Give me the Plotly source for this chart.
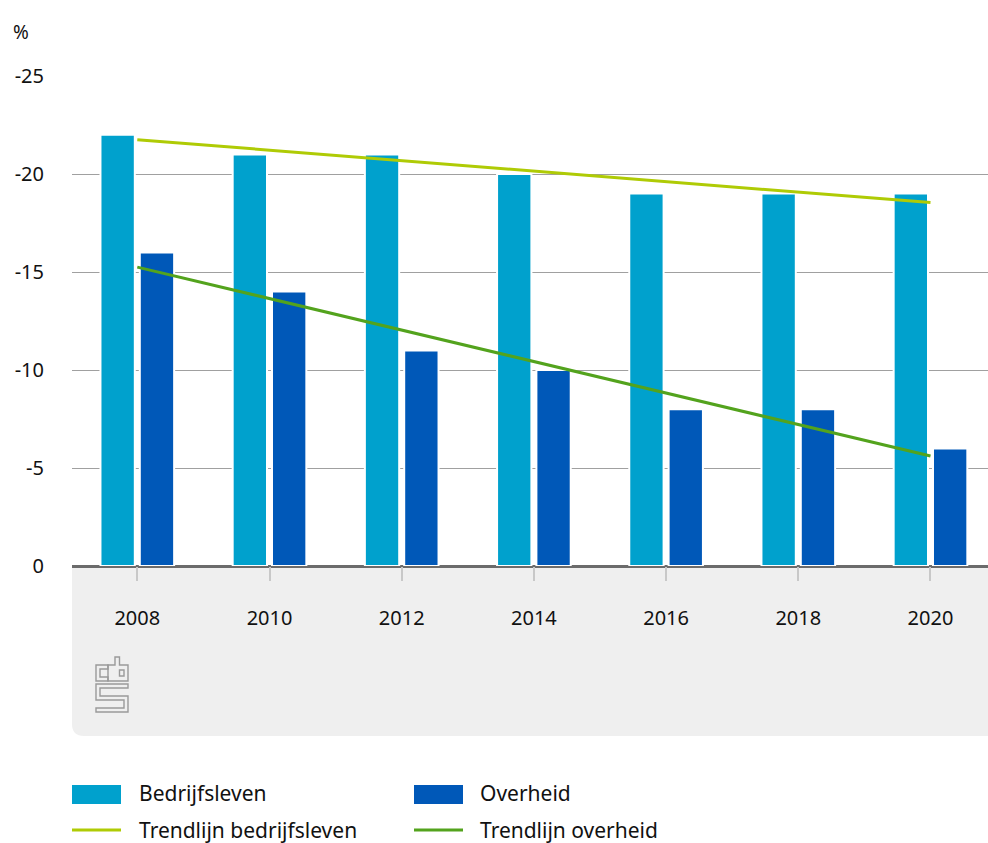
import plotly.graph_objects as go

years = ["2008", "2010", "2012", "2014", "2016", "2018", "2020"]
bedrijfsleven = [-22, -21, -21, -20, -19, -19, -19]
overheid = [-16, -14, -11, -10, -8, -8, -6]
trend_years = ["2008", "2020"]
trend_bedrijfsleven = [-21.75, -18.54]
trend_overheid = [-15.25, -5.61]
y_ticks = [0, -5, -10, -15, -20, -25]
y_ticktext = ["0", "-5", "-10", "-15", "-20", "-25"]

C_BED = "#00a1cd"
C_OVH = "#0058b8"
C_TBED = "#afcb05"
C_TOVH = "#53a31d"
FONT = "Noto Sans"

W, H = 988, 843
ML, MR, MT, MB = 72, 0, 76, 843 - 566


def px(x):
    return (x - ML) / (W - ML - MR)


def py(y):
    return (H - MB - y) / (H - MT - MB)


fig = go.Figure()
fig.add_trace(go.Bar(x=years, y=bedrijfsleven, name="Bedrijfsleven",
                     marker=dict(color=C_BED, line=dict(color="white", width=2)),
                     showlegend=False))
fig.add_trace(go.Bar(x=years, y=overheid, name="Overheid",
                     marker=dict(color=C_OVH, line=dict(color="white", width=2)),
                     showlegend=False))
fig.add_trace(go.Scatter(x=trend_years, y=trend_bedrijfsleven, mode="lines",
                         name="Trendlijn bedrijfsleven",
                         line=dict(color=C_TBED, width=3), showlegend=False))
fig.add_trace(go.Scatter(x=trend_years, y=trend_overheid, mode="lines",
                         name="Trendlijn overheid",
                         line=dict(color=C_TOVH, width=3), showlegend=False))

shapes = []
# grey band under the axis with rounded bottom-left corner
r = 12
x0, x1, y0, y1 = 72, 988, 566, 736
band_path = (f"M {px(x0)},{py(y0)} L {px(x1)},{py(y0)} L {px(x1)},{py(y1)} "
             f"L {px(x0 + r)},{py(y1)} Q {px(x0)},{py(y1)} {px(x0)},{py(y1 - r)} Z")
shapes.append(dict(type="path", xref="paper", yref="paper", path=band_path,
                   fillcolor="#efefef", line=dict(width=0), layer="below"))


def outline(points):
    s = "M " + " L ".join(f"{px(a)},{py(b)}" for a, b in points) + " Z"
    return dict(type="path", xref="paper", yref="paper", path=s,
                line=dict(color="#9a9a9a", width=1.4), fillcolor="rgba(0,0,0,0)")


# CBS logo (line drawing)
shapes.append(outline([(108, 665), (96, 665), (96, 681), (108, 681), (108, 677),
                       (100, 677), (100, 669), (108, 669)]))
shapes.append(outline([(108, 665), (115, 665), (115, 657), (119.5, 657), (119.5, 665),
                       (128, 665), (128, 681), (108, 681)]))
shapes.append(outline([(119.5, 670), (124, 670), (124, 676), (119.5, 676)]))
shapes.append(outline([(128, 684), (96, 684), (96, 700), (124, 700), (124, 708),
                       (96, 708), (96, 712), (128, 712), (128, 696), (100, 696),
                       (100, 688), (128, 688)]))

# manual legend
shapes.append(dict(type="rect", xref="paper", yref="paper",
                   x0=px(72), x1=px(121), y0=py(785), y1=py(804),
                   fillcolor=C_BED, line=dict(width=0)))
shapes.append(dict(type="rect", xref="paper", yref="paper",
                   x0=px(414), x1=px(463), y0=py(785), y1=py(804),
                   fillcolor=C_OVH, line=dict(width=0)))
shapes.append(dict(type="line", xref="paper", yref="paper",
                   x0=px(72), x1=px(121), y0=py(830), y1=py(830),
                   line=dict(color=C_TBED, width=3)))
shapes.append(dict(type="line", xref="paper", yref="paper",
                   x0=px(414), x1=px(463), y0=py(830), y1=py(830),
                   line=dict(color=C_TOVH, width=3)))

annotations = [
    dict(text="%", xref="paper", yref="paper", x=px(11), y=py(32),
         xanchor="left", yanchor="middle", showarrow=False,
         font=dict(size=19, color="#111", family=FONT)),
]
for label, xx, yy in [("Bedrijfsleven", 137, 793), ("Overheid", 478, 793),
                      ("Trendlijn bedrijfsleven", 137, 830), ("Trendlijn overheid", 478, 830)]:
    annotations.append(dict(text=label, xref="paper", yref="paper", x=px(xx), y=py(yy),
                            xanchor="left", yanchor="middle", showarrow=False,
                            font=dict(size=21, color="#111", family=FONT)))

fig.update_layout(
    width=W, height=H,
    margin=dict(l=ML, r=MR, t=MT, b=MB, pad=0),
    paper_bgcolor="white", plot_bgcolor="white",
    font=dict(family=FONT, size=20, color="#111"),
    barmode="group", bargap=0.405, bargroupgap=0.127,
    shapes=shapes, annotations=annotations,
    xaxis=dict(type="category", range=[-0.494, 6.435], showgrid=False,
               ticks="outside", ticklen=14, tickwidth=2, tickcolor="#c8c8c8",
               ticklabelstandoff=20, showline=False, zeroline=False,
               tickfont=dict(size=20, color="#111")),
    yaxis=dict(range=[0, -25], tickvals=y_ticks, ticktext=y_ticktext,
               showgrid=True, gridcolor="#a0a0a0", gridwidth=1,
               zeroline=True, zerolinecolor="#6b6b6b", zerolinewidth=3,
               ticks="", ticklabelstandoff=27, showline=False,
               tickfont=dict(size=20, color="#111")),
)

fig.write_html("out.html", config={"displayModeBar": False},
               post_script="document.body.style.margin='0';document.body.style.overflow='hidden';")
